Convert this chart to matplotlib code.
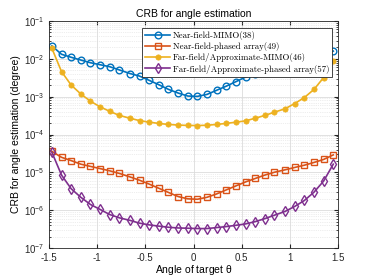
import numpy as np
import matplotlib
matplotlib.use("Agg")
import matplotlib.pyplot as plt
from matplotlib.ticker import LogLocator, NullFormatter

plt.rcParams['font.family'] = ['Liberation Sans', 'DejaVu Sans']
plt.rcParams['mathtext.default'] = 'regular'
plt.rcParams['axes.unicode_minus'] = False

# angle grid (30 points)
theta = [-1.47, -1.37, -1.27, -1.17, -1.07, -0.97, -0.87, -0.77, -0.66, -0.56,
         -0.46, -0.36, -0.26, -0.16, -0.06, 0.04, 0.14, 0.24, 0.34, 0.44,
         0.54, 0.64, 0.74, 0.84, 0.95, 1.05, 1.15, 1.25, 1.35, 1.45]

near_mimo = [2.2e-2, 1.32e-2, 1.1e-2, 9.3e-3, 7.9e-3, 7.0e-3, 6.2e-3, 5.1e-3, 4.1e-3, 3.5e-3,
             2.7e-3, 2.07e-3, 1.56e-3, 1.25e-3, 1.04e-3, 1.02e-3, 1.15e-3, 1.48e-3, 1.9e-3, 2.5e-3,
             3.3e-3, 3.9e-3, 4.6e-3, 5.3e-3, 6.1e-3, 6.9e-3, 7.9e-3, 9.2e-3, 1.15e-2, 1.6e-2]

near_phased = [3.6e-5, 2.5e-5, 2.05e-5, 1.65e-5, 1.44e-5, 1.26e-5, 1.1e-5, 9.4e-6, 7.6e-6, 6.2e-6,
               4.9e-6, 3.8e-6, 2.95e-6, 2.3e-6, 2.0e-6, 1.95e-6, 2.2e-6, 2.7e-6, 3.45e-6, 4.4e-6,
               5.6e-6, 6.9e-6, 8.5e-6, 1.01e-5, 1.17e-5, 1.35e-5, 1.55e-5, 1.83e-5, 2.2e-5, 2.9e-5]

far_mimo = [1.9e-2, 4.6e-3, 2.03e-3, 1.18e-3, 7.6e-4, 5.4e-4, 4.1e-4, 3.2e-4, 2.7e-4, 2.33e-4,
            2.13e-4, 1.96e-4, 1.85e-4, 1.78e-4, 1.74e-4, 1.73e-4, 1.76e-4, 1.85e-4, 1.97e-4, 2.12e-4,
            2.3e-4, 2.7e-4, 3.2e-4, 3.9e-4, 4.8e-4, 6.6e-4, 9.5e-4, 1.56e-3, 3.2e-3, 8.7e-3]

far_phased = [3.4e-5, 8.5e-6, 3.7e-6, 2.2e-6, 1.42e-6, 1.05e-6, 7.7e-7, 6.3e-7, 5.4e-7, 4.55e-7,
              4.1e-7, 3.8e-7, 3.55e-7, 3.4e-7, 3.35e-7, 3.28e-7, 3.28e-7, 3.48e-7, 3.7e-7, 4.0e-7,
              4.35e-7, 5.0e-7, 6.0e-7, 7.4e-7, 9.3e-7, 1.26e-6, 1.81e-6, 3.0e-6, 5.9e-6, 1.65e-5]

y_ticks = [1e-7, 1e-6, 1e-5, 1e-4, 1e-3, 1e-2, 1e-1]

fig = plt.figure(figsize=(3.74, 2.8), dpi=100)
ax = fig.add_axes([0.131, 0.114, 0.773, 0.811])

ax.plot(theta, near_mimo, '-o', color='#0072BD', lw=1.2, ms=4.8, mfc='none', mew=1.0,
        label='Near-field-MIMO(38)')
ax.plot(theta, near_phased, '-s', color='#D95319', lw=1.2, ms=4.2, mfc='none', mew=1.0,
        label='Near-field-phased array(49)')
ax.plot(theta, far_mimo, '-o', color='#EDB120', lw=1.2, ms=3.8, mfc='#EDB120', mew=0.5,
        label='Far-field/Approximate-MIMO(46)')
ax.plot(theta, far_phased, '-d', color='#7E2F8E', lw=1.2, ms=5, mfc='none', mew=1.0,
        label='Far-field/Approximate-phased array(57)')

ax.set_yscale('log')
ax.set_ylim(1e-7, 1e-1)
ax.set_xlim(-1.5, 1.5)
ax.set_xticks([-1.5, -1, -0.5, 0, 0.5, 1, 1.5])
ax.set_xticklabels(['-1.5', '-1', '-0.5', '0', '0.5', '1', '1.5'])
ax.set_yticks(y_ticks)
ax.yaxis.set_minor_locator(LogLocator(base=10, subs=np.arange(2, 10), numticks=20))
ax.yaxis.set_minor_formatter(NullFormatter())

ax.grid(True, which='major', color='#dcdcdc', lw=0.6)
ax.grid(True, which='minor', axis='y', color='#dcdcdc', lw=0.5, ls=':')
ax.set_axisbelow(True)
ax.tick_params(which='both', direction='in', top=True, right=True, labelsize=7, colors='#262626')
ax.tick_params(which='major', length=3)
ax.tick_params(which='minor', length=1.5)
for s in ax.spines.values():
    s.set_color('#262626')
    s.set_linewidth(0.6)

ax.set_title('CRB for angle estimation', fontsize=7.5, pad=3)
ax.set_xlabel(r'Angle of target $\theta$', fontsize=7.5, labelpad=0)
ax.set_ylabel('CRB for angle estimation (degree)', fontsize=7.5, labelpad=2)

leg = ax.legend(loc='upper right', prop={'family': 'cmr10', 'size': 6.4},
                bbox_to_anchor=(0.98, 0.97), borderaxespad=0, frameon=True,
                fancybox=False, framealpha=1, handlelength=2.8, handletextpad=0.3,
                labelspacing=0.25, borderpad=0.35)
leg.get_frame().set_edgecolor('#262626')
leg.get_frame().set_linewidth(0.6)

fig.savefig('out.png', dpi=100)
